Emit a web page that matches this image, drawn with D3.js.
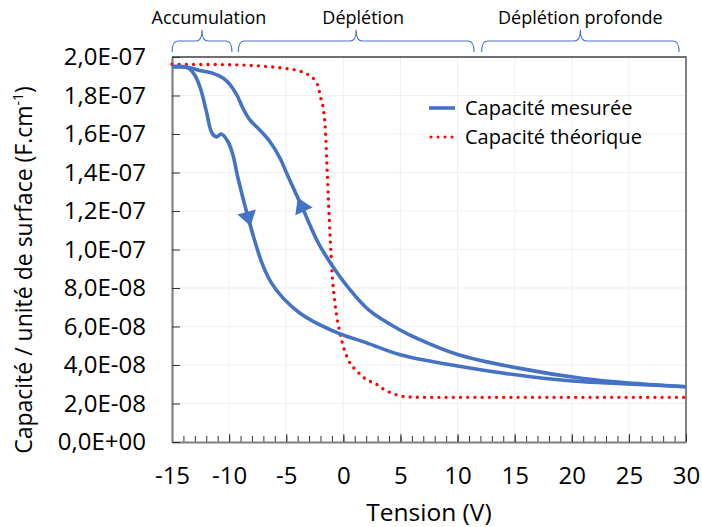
<!DOCTYPE html>
<html>
<head>
<meta charset="utf-8">
<script src="https://cdn.jsdelivr.net/npm/d3@7"></script>
<style>
  body { margin: 0; background: #fff; }
  svg { display: block; font-family: "Open Sans", sans-serif; }
</style>
</head>
<body>
<svg id="chart"></svg>
<script>
// measured C-V loop, sweep -15 V -> 30 V (lower branch)
var sweepV = [-15, -14, -13.5, -13, -12.5, -12, -11.5, -11.1, -10.7, -10.1, -9.66, -9.2, -7.58, -7.0, -6.27, -5.25, -3.79, -2.04, -0.29, 2.04, 4.9, 10, 16.4, 21, 25.4, 30];
var sweepC = [19.5e-8, 19.5e-8, 19.4e-8, 19.05e-8, 18.35e-8, 17.2e-8, 16.05e-8, 15.85e-8, 16.0e-8, 15.6e-8, 14.9e-8, 13.65e-8, 10.1e-8, 9.11e-8, 8.24e-8, 7.46e-8, 6.69e-8, 6.08e-8, 5.62e-8, 5.15e-8, 4.55e-8, 3.95e-8, 3.39e-8, 3.13e-8, 3.0e-8, 2.87e-8];

// return sweep 30 V -> -15 V (upper branch)
var returnV = [30, 25.4, 21, 15.2, 10, 6.43, 4.97, 2.3, 0.4, -1.01, -2.2, -3.5, -4.96, -5.54, -6.42, -7.3, -8.2, -8.8, -9.3, -9.9, -10.5, -11.4, -12.1, -12.6, -13.5, -15];
var returnC = [2.87e-8, 3.05e-8, 3.3e-8, 3.85e-8, 4.55e-8, 5.39e-8, 5.82e-8, 6.82e-8, 8.05e-8, 9.2e-8, 10.35e-8, 12.05e-8, 13.96e-8, 14.74e-8, 15.6e-8, 16.2e-8, 16.75e-8, 17.35e-8, 18.0e-8, 18.55e-8, 18.9e-8, 19.15e-8, 19.25e-8, 19.3e-8, 19.45e-8, 19.5e-8];

// theoretical curve
var theoV = [-15, -10, -7, -5, -4, -3, -2.5, -2.2, -1.95, -1.75, -1.55, -1.45, -1.3, -1.15, -1.0, -0.73, -0.29, 0.45, 1.25, 2, 2.78, 3.5, 4.28, 5.5, 7, 30];
var theoC = [19.62e-8, 19.6e-8, 19.52e-8, 19.4e-8, 19.3e-8, 19.05e-8, 18.8e-8, 18.45e-8, 17.8e-8, 17.3e-8, 16.0e-8, 14.6e-8, 12.5e-8, 10.6e-8, 8.9e-8, 7.2e-8, 5.65e-8, 4.26e-8, 3.65e-8, 3.25e-8, 3.05e-8, 2.75e-8, 2.53e-8, 2.35e-8, 2.32e-8, 2.32e-8];

var xTicks = [-15, -10, -5, 0, 5, 10, 15, 20, 25, 30];
var yTicks = [0, 2e-8, 4e-8, 6e-8, 8e-8, 10e-8, 12e-8, 14e-8, 16e-8, 18e-8, 20e-8];

var regionNames = ["Accumulation", "Déplétion", "Déplétion profonde"];
var regionStart = [-15, -9.2, 12.1];
var regionEnd = [-9.75, 11.45, 29.4];

// arrows on the loop (voltage where they sit)
var arrowSweepV = -8.3;
var arrowReturnV = -3.7;

var seriesNames = ["Capacité mesurée", "Capacité théorique"];

var width = 702, height = 527;
var margin = { top: 57, right: 16, bottom: 85, left: 172 };
var blue = "#4472c4", red = "#ff0000";

var svg = d3.select("#chart").attr("width", width).attr("height", height);

var x = d3.scaleLinear().domain([-15, 30]).range([margin.left, width - margin.right]);
var y = d3.scaleLinear().domain([0, 2e-7]).range([height - margin.bottom, margin.top]);

function sci(v) {
  if (v === 0) return "0,0E+00";
  var e = Math.floor(Math.log10(v) + 1e-9);
  var m = v / Math.pow(10, e);
  return m.toFixed(1).replace(".", ",") + "E" + (e < 0 ? "-" : "+") + String(Math.abs(e)).padStart(2, "0");
}

// light grid
svg.append("g").selectAll("line")
  .data(xTicks.slice(1, -1)).enter().append("line")
  .attr("x1", d => x(d)).attr("x2", d => x(d))
  .attr("y1", y(0)).attr("y2", y(2e-7))
  .attr("stroke", "#efefef").attr("stroke-width", 1);
svg.append("g").selectAll("line")
  .data(yTicks.slice(1, -1)).enter().append("line")
  .attr("x1", x(-15)).attr("x2", x(30))
  .attr("y1", d => y(d)).attr("y2", d => y(d))
  .attr("stroke", "#efefef").attr("stroke-width", 1);

// top and right border
svg.append("path")
  .attr("d", "M" + x(-15) + "," + y(2e-7) + "H" + x(30) + "V" + y(0))
  .attr("fill", "none").attr("stroke", "#404040").attr("stroke-width", 1.3);

// minor x ticks
var xMinor = svg.append("g")
  .attr("transform", "translate(0," + y(0) + ")")
  .call(d3.axisBottom(x).tickValues(d3.range(-14, 30, 1)).tickSize(-6).tickSizeOuter(0).tickFormat(""));
xMinor.select(".domain").remove();
xMinor.selectAll("line").attr("stroke", "#333");

// major x axis
var xAxis = svg.append("g")
  .attr("transform", "translate(0," + y(0) + ")")
  .call(d3.axisBottom(x).tickValues(xTicks).tickSize(-8).tickSizeOuter(0).tickPadding(25).tickFormat(d => String(d)));
xAxis.select(".domain").attr("stroke", "#808080").attr("stroke-width", 2.2);
xAxis.selectAll("line").attr("stroke", "#333");
xAxis.selectAll("text").attr("font-size", 24).attr("fill", "#000")
  .style("font-family", "'Open Sans', sans-serif");

// y axis
var yAxis = svg.append("g")
  .attr("transform", "translate(" + x(-15) + ",0)")
  .call(d3.axisLeft(y).tickValues(yTicks).tickSize(-8).tickSizeOuter(0).tickPadding(26).tickFormat(sci));
yAxis.select(".domain").attr("stroke", "#808080").attr("stroke-width", 2.2);
yAxis.selectAll("line").attr("stroke", "#333");
yAxis.selectAll("text").attr("font-size", 24).attr("fill", "#000")
  .style("font-family", "'Open Sans', sans-serif");

// axis titles
svg.append("text")
  .attr("x", (x(-15) + x(30)) / 2).attr("y", 521)
  .attr("text-anchor", "middle").attr("font-size", 24.5)
  .text("Tension (V)");

var yt = svg.append("text")
  .attr("transform", "translate(32,270) rotate(-90)")
  .attr("text-anchor", "middle").attr("font-size", 23);
yt.append("tspan").text("Capacité / unité de surface (F.cm");
yt.append("tspan").attr("font-size", 14).attr("dy", -9).text("-1");
yt.append("tspan").attr("dy", 9).text(")");

// lines
var smooth = d3.line()
  .x(d => x(d[0]))
  .y(d => y(d[1]))
  .curve(d3.curveCatmullRom.alpha(0.5));
var mono = d3.line()
  .x(d => x(d[0]))
  .y(d => y(d[1]))
  .curve(d3.curveMonotoneX);

var sweepPts = sweepV.map((v, i) => [v, sweepC[i]]);
var returnPts = returnV.map((v, i) => [v, returnC[i]]).reverse();
var theoPts = theoV.map((v, i) => [v, theoC[i]]);

svg.append("path")
  .attr("d", mono(theoPts))
  .attr("fill", "none").attr("stroke", red).attr("stroke-width", 3.4)
  .attr("stroke-linecap", "round").attr("stroke-dasharray", "0 7.2");

var sweepPath = svg.append("path")
  .attr("d", smooth(sweepPts))
  .attr("fill", "none").attr("stroke", blue).attr("stroke-width", 3.6)
  .attr("stroke-linejoin", "round");
var returnPath = svg.append("path")
  .attr("d", smooth(returnPts))
  .attr("fill", "none").attr("stroke", blue).attr("stroke-width", 3.6)
  .attr("stroke-linejoin", "round");

// arrow heads placed on the drawn paths
function arrowAt(pathSel, v, flip) {
  var node = pathSel.node(), total = node.getTotalLength();
  var tx = x(v), lo = 0, hi = total;
  for (var k = 0; k < 40; k++) {
    var mid = (lo + hi) / 2;
    if (node.getPointAtLength(mid).x < tx) lo = mid; else hi = mid;
  }
  var p = node.getPointAtLength(lo);
  var a = node.getPointAtLength(Math.max(0, lo - 3)), b = node.getPointAtLength(Math.min(total, lo + 3));
  var ang = Math.atan2(b.y - a.y, b.x - a.x) * 180 / Math.PI + (flip ? 180 : 0);
  svg.append("path")
    .attr("d", "M8,0 L-7,-9.5 L-7,9.5 Z")
    .attr("transform", "translate(" + p.x + "," + p.y + ") rotate(" + ang + ")")
    .attr("fill", blue);
}
arrowAt(sweepPath, arrowSweepV, false);
arrowAt(returnPath, arrowReturnV, true);

// legend
var lg = svg.append("g");
lg.append("line").attr("x1", 429).attr("x2", 455).attr("y1", 108).attr("y2", 108)
  .attr("stroke", blue).attr("stroke-width", 3.6);
lg.append("line").attr("x1", 431).attr("x2", 455).attr("y1", 137).attr("y2", 137)
  .attr("stroke", red).attr("stroke-width", 3).attr("stroke-linecap", "round").attr("stroke-dasharray", "0 7");
lg.selectAll("text").data(seriesNames).enter().append("text")
  .attr("x", 465).attr("y", (d, i) => 108 + i * 29).attr("dy", "0.35em")
  .attr("font-size", 20).text(d => d);

// region braces
var by0 = 30, by1 = 41, by2 = 52, r = 6;
regionNames.forEach(function(name, i) {
  var x0 = x(regionStart[i]), x1 = x(regionEnd[i]), xm = (x0 + x1) / 2;
  var d = "M" + x0 + "," + by2 +
    " Q" + x0 + "," + by1 + " " + (x0 + r) + "," + by1 +
    " H" + (xm - r) +
    " Q" + xm + "," + by1 + " " + xm + "," + by0 +
    " Q" + xm + "," + by1 + " " + (xm + r) + "," + by1 +
    " H" + (x1 - r) +
    " Q" + x1 + "," + by1 + " " + x1 + "," + by2;
  svg.append("path").attr("d", d).attr("fill", "none")
    .attr("stroke", blue).attr("stroke-width", 1.1);
  svg.append("text").attr("x", xm + (i === 2 ? 0 : 7)).attr("y", 24)
    .attr("text-anchor", "middle").attr("font-size", 18).text(name);
});
</script>
</body>
</html>
